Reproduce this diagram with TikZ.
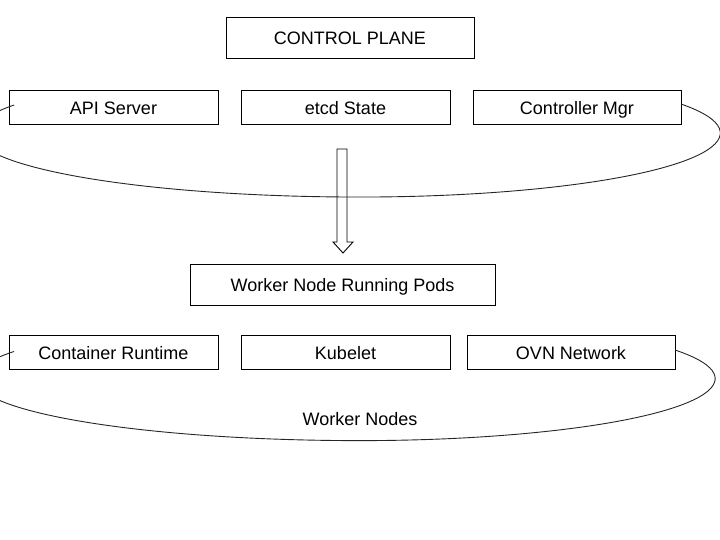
\documentclass[tikz,border=0pt]{standalone}
\usepackage{fontspec}
\setmainfont{Liberation Sans}
\usepackage{tikz}
\usetikzlibrary{positioning}

\begin{document}
\begin{tikzpicture}[
    x=1pt, y=1pt,
    node distance=32pt and 23pt,
    every node/.style={font=\fontsize{18}{22}\selectfont},
    box/.style={rectangle, draw, line width=1pt, align=center, minimum width=209pt, minimum height=34pt,
      inner sep=0pt, outer sep=0pt, text height=16pt, text depth=3.5pt},
    widebox/.style={box, minimum height=41pt},
    loop/.style={line width=0.9pt, black!85},
    blockarrow/.style={line width=0.9pt, black}
  ]
  \useasboundingbox (0,0) rectangle (720,540);

  \node[widebox, minimum width=248pt] (plane) at (350,501.5) {CONTROL PLANE};
  \node[box] (api) at (113.5,432) {API Server};
  \node[box, right=of api] (etcd) {etcd State};
  \node[box, right=of etcd, minimum width=208pt] (ctrl) {Controller Mgr};

  \node[widebox, minimum width=305pt] (worker) at (342.5,254.5) {Worker Node Running Pods};
  \node[box] (runtime) at (113.5,187) {Container Runtime};
  \node[box, right=of runtime] (kubelet) {Kubelet};
  \node[box, right=17pt of kubelet, minimum width=208pt] (ovn) {OVN Network};
  \node[text height=16pt, text depth=3.5pt] (workers) at (360,121) {Worker Nodes};

  \draw[blockarrow] (337,391) -- (347,391) -- (347,298) -- (353,298) -- (343,287)
    -- (333,298) -- (337,298) -- cycle;

  \draw[loop] ([yshift=4pt]ctrl.east)
    arc[start angle=27, end angle=-90, x radius=360, y radius=64]
    arc[start angle=270, end angle=154, x radius=385, y radius=64];
  \draw[loop] ([yshift=3pt]ovn.east)
    arc[start angle=27.5, end angle=-90, x radius=355, y radius=62]
    arc[start angle=270, end angle=154, x radius=385, y radius=62];

\end{tikzpicture}
\end{document}
